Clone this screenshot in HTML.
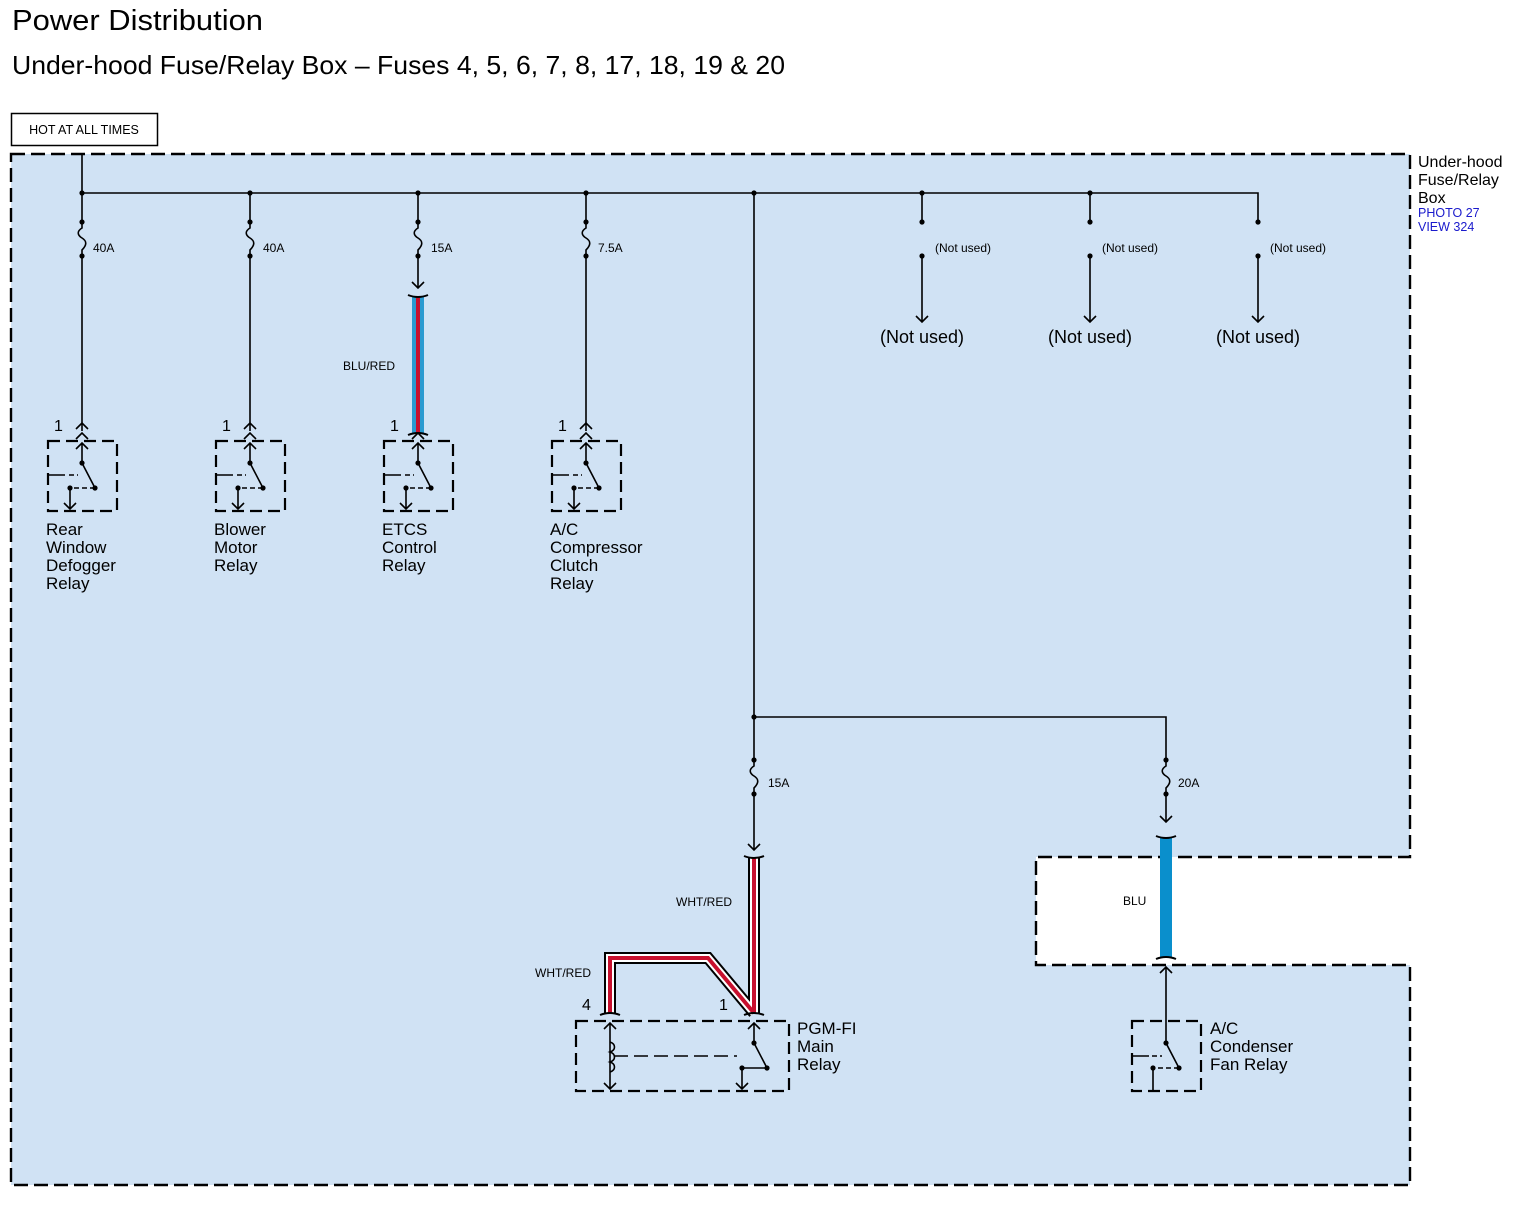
<!DOCTYPE html>
<html><head><meta charset="utf-8"><style>
body{margin:0;background:#fff}
svg{display:block;font-family:"Liberation Sans",Arial,sans-serif}
</style></head><body>
<svg width="1519" height="1207" viewBox="0 0 1519 1207" xmlns="http://www.w3.org/2000/svg">
<defs>
<g id="fuse" fill="none" stroke="#000" stroke-width="1.6">
<path d="M0,0 V6 C-5,9 -5,13 0,16 C5,19 5,23 0,28 V34"/>
<circle cx="0" cy="0" r="2.6" fill="#000" stroke="none"/>
<circle cx="0" cy="34" r="2.6" fill="#000" stroke="none"/>
</g>
<g id="relay" fill="none" stroke="#000" stroke-width="1.6">
<rect x="-34" y="0" width="69" height="70" stroke-width="2.2" stroke-dasharray="12,6"/>
<path d="M0,2 V22 M-6,8 L0,2 L6,8 M-6,-2 L0,-8 L6,-2"/>
<path d="M0,22 L13,47 M-34,34 H-17"/>
<path d="M-13,34 H-4 M13,47 H-12" stroke-dasharray="5,3"/>
<path d="M-12,47 V68 M-18,62 L-12,68 L-6,62"/>
<circle cx="0" cy="22" r="2.6" fill="#000" stroke="none"/>
<circle cx="13" cy="47" r="2.6" fill="#000" stroke="none"/>
<circle cx="-12" cy="47" r="2.6" fill="#000" stroke="none"/>
</g>
</defs>
<text x="12" y="30" font-size="29" textLength="251" lengthAdjust="spacingAndGlyphs">Power Distribution</text>
<text x="12" y="74" font-size="26" textLength="773" lengthAdjust="spacingAndGlyphs">Under-hood Fuse/Relay Box – Fuses 4, 5, 6, 7, 8, 17, 18, 19 &amp; 20</text>
<rect x="11.5" y="113.5" width="146" height="32" fill="#fff" stroke="#000" stroke-width="1.5"/>
<text x="84" y="134" font-size="12.5" text-anchor="middle">HOT AT ALL TIMES</text>
<path d="M11,154 H1410 V857 H1036 V965 H1410 V1185 H11 Z" fill="#d0e2f4" stroke="#000" stroke-width="2.4" stroke-dasharray="14,6"/>
<text x="1418" y="167" font-size="16">Under-hood</text>
<text x="1418" y="185" font-size="16">Fuse/Relay</text>
<text x="1418" y="203" font-size="16">Box</text>
<text x="1418" y="217" font-size="12.5" fill="#1a1acc">PHOTO 27</text>
<text x="1418" y="231" font-size="12.5" fill="#1a1acc">VIEW 324</text>
<g stroke="#000" stroke-width="1.6" fill="none">
<path d="M82,154 V193 M82,193 H1258 V222 M922,193 V222 M1090,193 V222 M754,193 V717 H1166 V760 M754,717 V760"/>
<path d="M82,256 V431 M250,193 V222 M250,256 V431 M418,193 V222 M418,256 V288 M586,193 V222 M586,256 V431 M82,193 V222"/>
<path d="M412,282 L418,288 L424,282"/>
<path d="M76,429 L82,423 L88,429 M244,429 L250,423 L256,429 M580,429 L586,423 L592,429"/>
<path d="M922,256 V322 M916,316 L922,322 L928,316 M1090,256 V322 M1084,316 L1090,322 L1096,316 M1258,256 V322 M1252,316 L1258,322 L1264,316"/>
<path d="M754,794 V850 M748,844 L754,850 L760,844 M1166,794 V822 M1160,816 L1166,822 L1172,816"/>
<path d="M1166,1021 V967 M1160,973 L1166,967 L1172,973"/>
</g>
<g fill="#000">
<circle cx="82" cy="193" r="2.6"/><circle cx="250" cy="193" r="2.6"/><circle cx="418" cy="193" r="2.6"/><circle cx="586" cy="193" r="2.6"/><circle cx="754" cy="193" r="2.6"/><circle cx="922" cy="193" r="2.6"/><circle cx="1090" cy="193" r="2.6"/><circle cx="754" cy="717" r="2.6"/>
<circle cx="922" cy="222" r="2.6"/><circle cx="922" cy="256" r="2.6"/><circle cx="1090" cy="222" r="2.6"/><circle cx="1090" cy="256" r="2.6"/><circle cx="1258" cy="222" r="2.6"/><circle cx="1258" cy="256" r="2.6"/>
</g>
<use href="#fuse" x="82" y="222"/><use href="#fuse" x="250" y="222"/><use href="#fuse" x="418" y="222"/><use href="#fuse" x="586" y="222"/>
<use href="#fuse" x="754" y="760"/><use href="#fuse" x="1166" y="760"/>
<g font-size="12">
<text x="93" y="252">40A</text><text x="263" y="252">40A</text><text x="431" y="252">15A</text><text x="598" y="252">7.5A</text>
<text x="768" y="787">15A</text><text x="1178" y="787">20A</text>
<text x="935" y="252">(Not used)</text><text x="1102" y="252">(Not used)</text><text x="1270" y="252">(Not used)</text>
<text x="343" y="370">BLU/RED</text><text x="676" y="906">WHT/RED</text><text x="535" y="977">WHT/RED</text><text x="1123" y="905">BLU</text>
</g>
<g font-size="18" text-anchor="middle"><text x="922" y="343">(Not used)</text><text x="1090" y="343">(Not used)</text><text x="1258" y="343">(Not used)</text></g>
<rect x="412" y="297" width="12" height="136" fill="#2a9ad0"/><rect x="416" y="297" width="4" height="136" fill="#c8102e"/>
<rect x="1160" y="838" width="12" height="119" fill="#0a8fcc"/>
<g fill="none">
<path d="M754,858 V1013 M754,1013 L708,958 H610 V1013" stroke="#000" stroke-width="12"/>
<path d="M754,858 V1013 M754,1013 L708,958 H610 V1013" stroke="#fff" stroke-width="8"/>
<path d="M754,858 V1013 M754,1013 L708,958 H610 V1013" stroke="#c8102e" stroke-width="4"/>
</g>
<g stroke="#000" stroke-width="2" fill="none">
<path d="M408,295 Q418,299 428,295 M408,435 Q418,431 428,435"/>
<path d="M744,856 Q754,860 764,856 M1156,836 Q1166,840 1176,836 M1156,959 Q1166,955 1176,959"/>
<path d="M600,1015 Q610,1011 620,1015 M744,1015 Q754,1011 764,1015"/>
</g>
<use href="#relay" x="82" y="441"/><use href="#relay" x="250" y="441"/><use href="#relay" x="418" y="441"/><use href="#relay" x="586" y="441"/>
<g font-size="16"><text x="54" y="431">1</text><text x="222" y="431">1</text><text x="390" y="431">1</text><text x="558" y="431">1</text>
<text x="582" y="1010">4</text><text x="719" y="1010">1</text></g>
<g font-size="17">
<text x="46" y="535">Rear</text><text x="46" y="553">Window</text><text x="46" y="571">Defogger</text><text x="46" y="589">Relay</text>
<text x="214" y="535">Blower</text><text x="214" y="553">Motor</text><text x="214" y="571">Relay</text>
<text x="382" y="535">ETCS</text><text x="382" y="553">Control</text><text x="382" y="571">Relay</text>
<text x="550" y="535">A/C</text><text x="550" y="553">Compressor</text><text x="550" y="571">Clutch</text><text x="550" y="589">Relay</text>
<text x="797" y="1034">PGM-FI</text><text x="797" y="1052">Main</text><text x="797" y="1070">Relay</text>
<text x="1210" y="1034">A/C</text><text x="1210" y="1052">Condenser</text><text x="1210" y="1070">Fan Relay</text>
</g>
<g stroke="#000" stroke-width="1.6" fill="none">
<rect x="576" y="1021" width="213" height="70" stroke-width="2.2" stroke-dasharray="12,6"/>
<path d="M610,1023 V1089 M604,1029 L610,1023 L616,1029 M604,1083 L610,1089 L616,1083"/>
<path d="M610,1042 c6,2 6,8 0,10 c6,2 6,8 0,10 c6,2 6,8 0,10"/>
<path d="M614,1056 H737" stroke-dasharray="14,6"/>
<path d="M754,1023 V1043 M748,1029 L754,1023 L760,1029 M754,1043 L767,1068 M767,1068 H742" />
<path d="M742,1068 V1089 M736,1083 L742,1089 L748,1083"/>
</g>
<circle cx="754" cy="1043" r="2.6"/><circle cx="767" cy="1068" r="2.6"/><circle cx="742" cy="1068" r="2.6"/>
<g stroke="#000" stroke-width="1.6" fill="none">
<rect x="1132" y="1021" width="69" height="70" stroke-width="2.2" stroke-dasharray="12,6"/>
<path d="M1166,1021 V1043 L1179,1068 M1132,1056 H1149 M1153,1068 V1091"/>
<path d="M1152,1056 H1162 M1179,1068 H1154" stroke-dasharray="5,3"/>
</g>
<circle cx="1166" cy="1043" r="2.6"/><circle cx="1179" cy="1068" r="2.6"/><circle cx="1153" cy="1068" r="2.6"/>
</svg>
</body></html>
